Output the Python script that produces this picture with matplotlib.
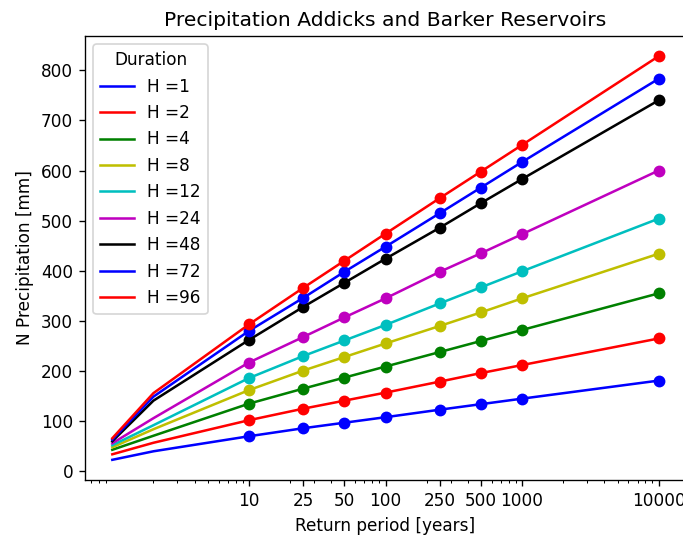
import numpy as np
import matplotlib
matplotlib.use("Agg")
import matplotlib.pyplot as plt

# return periods [years]
periods = [1, 2, 10, 25, 50, 100, 250, 500, 1000, 10000]
marked_periods = [10, 25, 50, 100, 250, 500, 1000, 10000]
xtick_labels = ["10", "25", "50", "100", "250", "500", "1000", "10000"]

durations = [1, 2, 4, 8, 12, 24, 48, 72, 96]
colors = ['b', 'r', 'g', 'y', 'c', 'm', 'k', 'b', 'r']

# precipitation [mm] per duration
p_h1 = [23, 40, 70, 86, 97, 108, 123, 134, 145, 181]
p_h2 = [34, 57, 102, 125, 141, 157, 179, 196, 212, 265]
p_h4 = [43, 71, 135, 165, 187, 209, 238, 260, 282, 355]
p_h8 = [48, 84, 162, 201, 228, 255, 290, 317, 345, 434]
p_h12 = [52, 92, 186, 230, 261, 292, 335, 367, 399, 504]
p_h24 = [56, 106, 217, 268, 307, 345, 398, 435, 473, 600]
p_h48 = [60, 141, 262, 328, 376, 424, 486, 535, 583, 740]
p_h72 = [63, 149, 280, 346, 398, 448, 515, 566, 617, 783]
p_h96 = [66, 156, 293, 366, 420, 474, 545, 598, 651, 828]

precip = [p_h1, p_h2, p_h4, p_h8, p_h12, p_h24, p_h48, p_h72, p_h96]

dpi = 121.5
fig = plt.figure(figsize=(683 / dpi, 535 / dpi), dpi=dpi)
ax = fig.add_axes([85 / 683, 55 / 535, 601 / 683, 444 / 535])

for h, c, p in zip(durations, colors, precip):
    ax.plot(periods, p, color=c, label='H =' + str(h))
    sub = [v for t, v in zip(periods, p) if t in marked_periods]
    ax.plot(marked_periods, sub, c + 'o')

ax.set_xscale('log')
ax.set_xticks(marked_periods)
ax.set_xticklabels(xtick_labels)
ax.set_title("Precipitation Addicks and Barker Reservoirs")
ax.set_xlabel("Return period [years]")
ax.set_ylabel("N Precipitation [mm]")
ax.legend(title="Duration", loc="upper left")

fig.savefig("out.png", dpi=dpi)
